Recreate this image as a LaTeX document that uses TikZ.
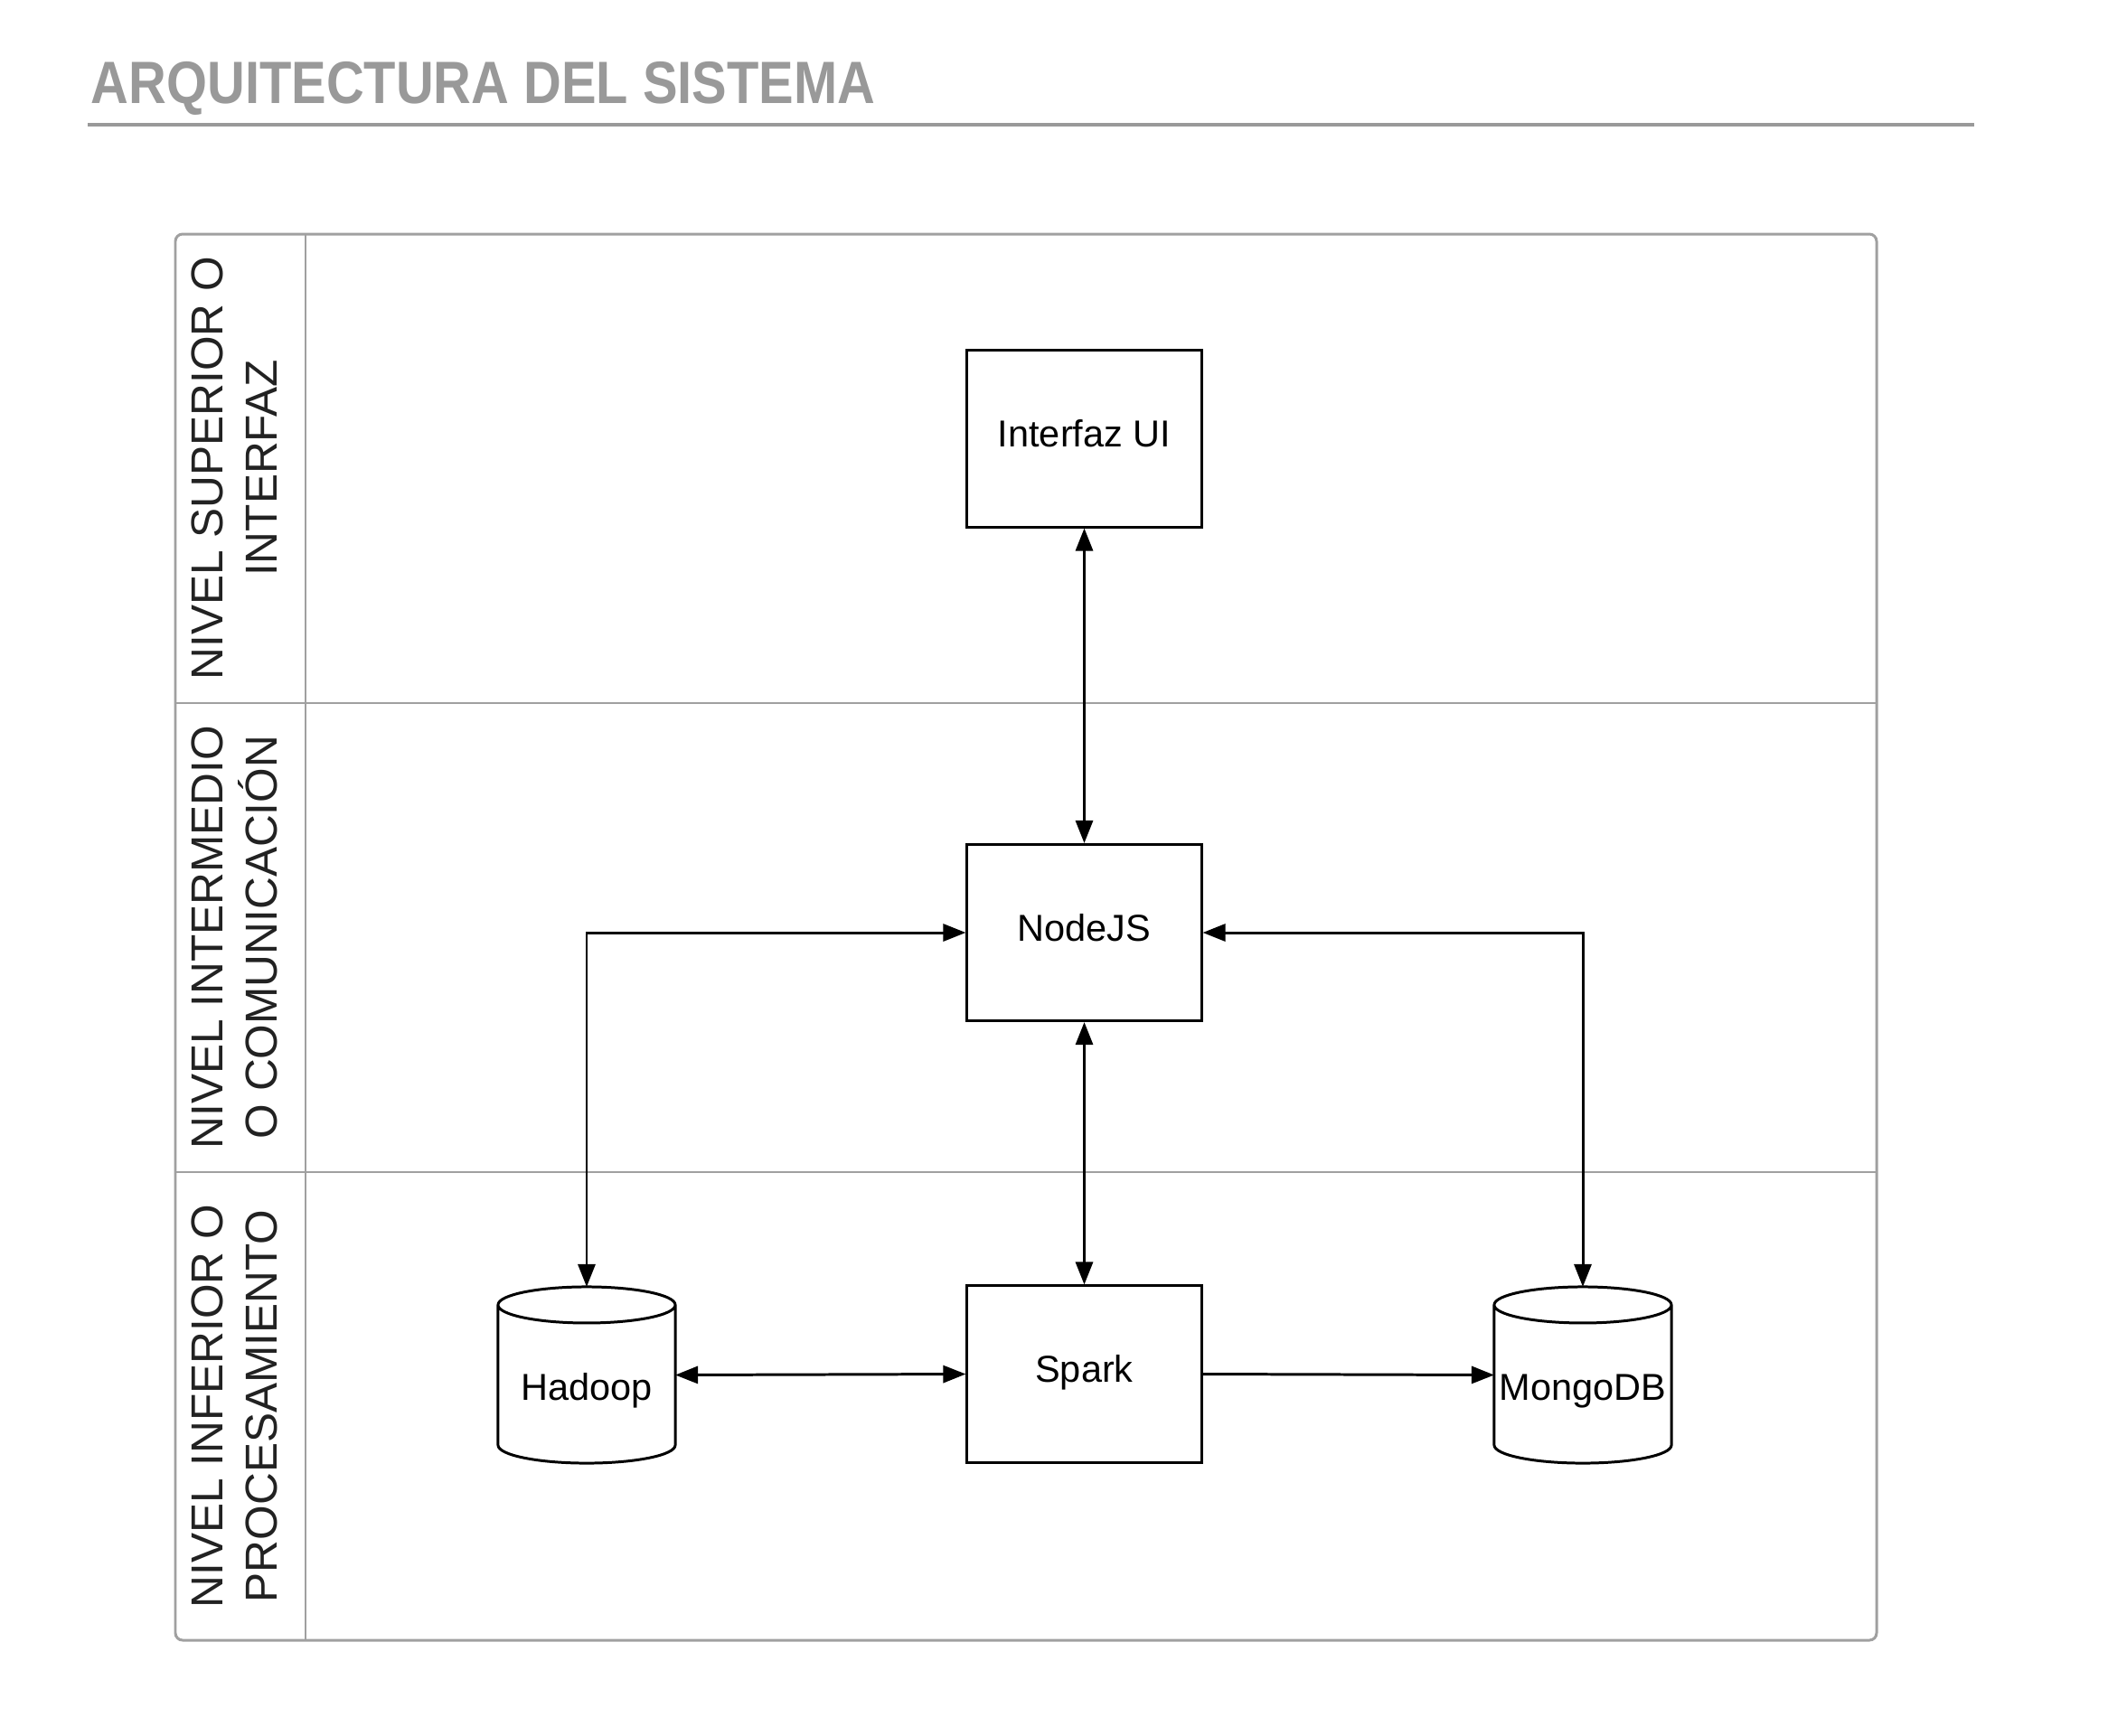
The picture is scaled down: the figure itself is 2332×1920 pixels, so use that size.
\documentclass[tikz,border=0pt]{standalone}
\usepackage{fontspec}
\usepackage{graphicx}
\setmainfont{Liberation Sans}
\usetikzlibrary{arrows.meta}
\definecolor{titlegray}{HTML}{999999}
\definecolor{lanegray}{HTML}{A0A0A0}
\definecolor{lanetext}{HTML}{222222}

\tikzstyle{block} = [draw, line width=0.85pt, minimum width=2.59cm, minimum height=1.95cm, inner sep=0pt, text height=9pt, text depth=3.66pt, font=\fontsize{11.8}{14}\selectfont]
\tikzstyle{db} = [minimum width=1.96cm, minimum height=1.95cm, inner sep=0pt, outer sep=0pt, text height=18pt, text depth=2.1pt, font=\fontsize{11.8}{14}\selectfont]
\tikzstyle{lane} = [rotate=90, align=center, text=lanetext, font=\fontsize{14.1}{17.1}\selectfont]
\tikzstyle{line} = [draw, line width=0.85pt, {Triangle[length=0.25cm,width=0.19cm]}-{Triangle[length=0.25cm,width=0.19cm]}]
\tikzstyle{oneway} = [draw, line width=0.85pt, -{Triangle[length=0.25cm,width=0.19cm]}]

% database can drawn round a db node
\newcommand{\dbcan}[1]{%
  \draw[line width=0.85pt] ([yshift=-0.2cm]#1.north west)
    arc[start angle=180, end angle=360, x radius=0.98cm, y radius=0.2cm]
    arc[start angle=0, end angle=180, x radius=0.98cm, y radius=0.2cm]
    -- ([yshift=0.2cm]#1.south west)
    arc[start angle=180, end angle=360, x radius=0.98cm, y radius=0.2cm]
    -- ([yshift=-0.2cm]#1.north east);
}

\begin{document}
\begin{tikzpicture}[x=0.01cm,y=-0.01cm]
\useasboundingbox (0,0) rectangle (2332,1920);
%title
\node[anchor=base west, inner sep=0pt, text=titlegray, font=\bfseries\fontsize{18.8}{22}\selectfont] (title) at (100,114) {\scalebox{0.875}[1]{ARQUITECTURA DEL SISTEMA}};
\draw[titlegray, line width=1.14pt] (97,138) -- (2184,138);

%lanes
\draw[lanegray, line width=0.85pt, rounded corners=0.08cm] (194,259) rectangle (2076,1815);
\draw[lanegray, line width=0.7pt] (338,259) -- (338,1815);
\draw[lanegray, line width=0.7pt] (194,778) -- (2076,778);
\draw[lanegray, line width=0.7pt] (194,1297) -- (2076,1297);

\node[lane] (upper) at (259,518) {NIVEL SUPERIOR O\\INTERFAZ};
\node[lane] (middle) at (259,1037) {NIVEL INTERMEDIO\\O COMUNICACIÓN};
\node[lane] (lower) at (259,1556) {NIVEL INFERIOR O\\PROCESAMIENTO};

%blocks
\node[block] (ui) at (1199.5,485.5) {Interfaz UI};
\node[block] (nodejs) at (1199.5,1032) {NodeJS};
\node[block] (spark) at (1199.5,1520.5) {Spark};
\node[db] (hadoop) at (649,1521.5) {Hadoop};
\node[db] (mongo) at (1751,1521.5) {MongoDB};
\dbcan{hadoop}
\dbcan{mongo}

%connectors
\path [line] (ui.south) -- (nodejs.north);
\path [line] (nodejs.south) -- (spark.north);
\path [line] (nodejs.west) -| (hadoop.north);
\path [line] (nodejs.east) -| (mongo.north);
\path [line] (hadoop.east) -- (spark.west);
\path [oneway] (spark.east) -- (mongo.west);
\end{tikzpicture}
\end{document}
